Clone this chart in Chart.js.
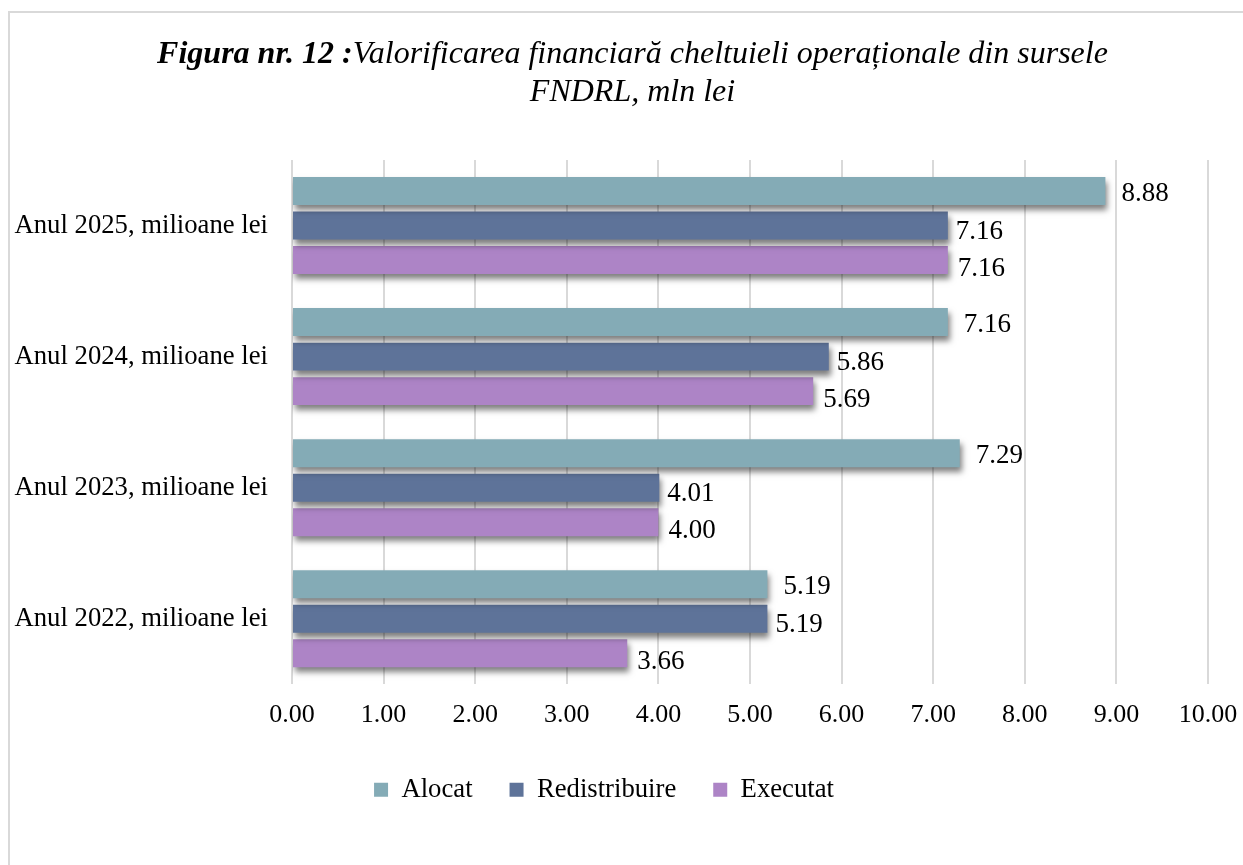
<!DOCTYPE html>
<html>
<head>
<meta charset="utf-8">
<script src="https://cdn.jsdelivr.net/npm/chart.js@4"></script>
<style>
  html, body { margin: 0; padding: 0; background: #fff; overflow: hidden; }
  #wrap { position: relative; width: 1243px; height: 865px; }
  #frame {
    position: absolute; left: 8px; top: 11px; width: 1300px; height: 900px;
    border: 2px solid #d9d9d9; box-sizing: border-box;
  }
  #title {
    position: absolute; left: 0; top: 33px; width: 1265px; text-align: center;
    font-family: "Liberation Serif", "Times New Roman", serif; font-style: italic;
    font-size: 32px; line-height: 38px; color: #000;
  }
  #title b { font-weight: bold; }
  canvas { position: absolute; left: 0; top: 0; }
</style>
</head>
<body>
<div id="wrap">
  <div id="frame"></div>
  <canvas id="chart" width="1243" height="865"></canvas>
  <div id="title"><b>Figura nr. 12 :</b>Valorificarea financiară cheltuieli operaționale din sursele<br>FNDRL, mln lei</div>
</div>
<script>
// data
const categories = [
    'Anul 2025, milioane lei',
    'Anul 2024, milioane lei',
    'Anul 2023, milioane lei',
    'Anul 2022, milioane lei'
];
const alocat = [8.88, 7.16, 7.29, 5.19];
const redistribuire = [7.16, 5.86, 4.01, 5.19];
const executat = [7.16, 5.69, 4.00, 3.66];
const xTicks = [0, 1, 2, 3, 4, 5, 6, 7, 8, 9, 10];

const serif = '"Liberation Serif", "Times New Roman", serif';

// bar shadows + value labels
const barExtras = {
    id: 'barExtras',
    beforeDatasetsDraw(chart) {
        const ctx = chart.ctx;
        ctx.save();
        ctx.shadowColor = 'rgba(0,0,0,0.5)';
        ctx.shadowBlur = 6;
        ctx.shadowOffsetX = 2;
        ctx.shadowOffsetY = 5;
    },
    afterDatasetsDraw(chart) {
        const ctx = chart.ctx;
        ctx.restore();
        ctx.save();
        ctx.font = '27px ' + serif;
        ctx.fillStyle = '#000';
        ctx.textAlign = 'left';
        ctx.textBaseline = 'middle';
        const dx = [16, 8, 10];
        const dy = [3, 6, 9];
        chart.data.datasets.forEach((ds, i) => {
            chart.getDatasetMeta(i).data.forEach((bar, j) => {
                ctx.fillText(ds.data[j].toFixed(2), bar.x + dx[i], bar.y + dy[i]);
            });
        });
        ctx.restore();
    }
};

new Chart(document.getElementById('chart').getContext('2d'), {
    type: 'bar',
    data: {
        labels: categories,
        datasets: [
            { label: 'Alocat', data: alocat, backgroundColor: '#84abb6' },
            { label: 'Redistribuire', data: redistribuire, backgroundColor: '#5e7399' },
            { label: 'Executat', data: executat, backgroundColor: '#ad84c6' }
        ]
    },
    options: {
        indexAxis: 'y',
        responsive: false,
        animation: false,
        categoryPercentage: 0.79,
        barPercentage: 0.81,
        layout: { padding: { top: 160, bottom: 52, left: 0, right: 35 } },
        scales: {
            x: {
                min: 0,
                max: 10,
                afterBuildTicks(scale) { scale.ticks = xTicks.map(v => ({ value: v })); },
                afterFit(scale) {
                    scale.height = 55;
                    scale.paddingLeft = 0;
                    scale.paddingRight = 0;
                },
                grid: { color: '#d9d9d9', lineWidth: 2, drawTicks: false },
                border: { display: false },
                ticks: {
                    padding: 15,
                    color: '#000',
                    font: { family: serif, size: 26 },
                    callback: v => v.toFixed(2)
                }
            },
            y: {
                afterFit(scale) { scale.width = 292; },
                grid: { display: false, drawTicks: false },
                border: { display: false },
                ticks: {
                    padding: 24,
                    color: '#000',
                    font: { family: serif, size: 26.7 }
                }
            }
        },
        plugins: {
            legend: {
                position: 'bottom',
                labels: {
                    boxWidth: 14,
                    boxHeight: 14,
                    padding: 37,
                    color: '#000',
                    font: { family: serif, size: 26.7 }
                }
            },
            tooltip: { enabled: false }
        }
    },
    plugins: [barExtras]
});
</script>
</body>
</html>
